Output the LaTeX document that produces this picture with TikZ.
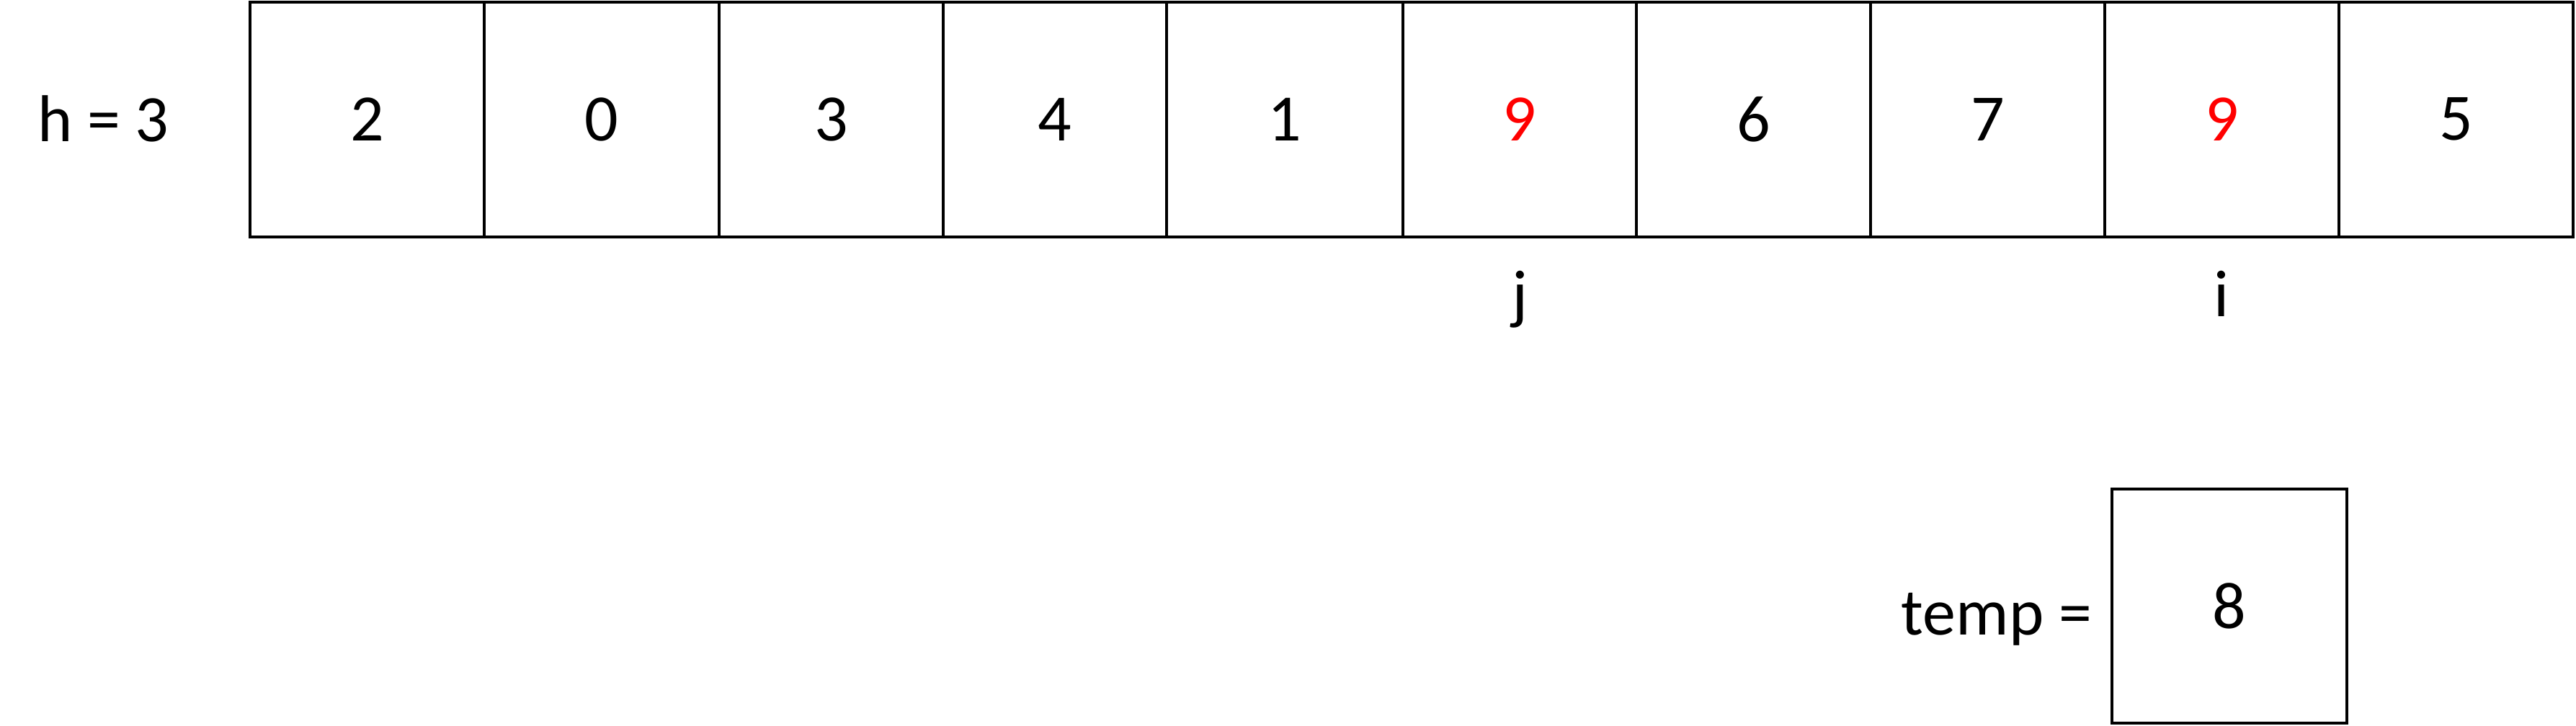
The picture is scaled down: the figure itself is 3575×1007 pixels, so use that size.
\documentclass[tikz,border=0pt]{standalone}
\usepackage{fontspec}
\setmainfont{Carlito}
\begin{document}
\begin{tikzpicture}[x=1pt,y=-1pt,
  every node/.style={font=\fontsize{92}{110}\selectfont, inner sep=0pt},
  cell/.style={draw, line width=4pt, minimum height=326pt},
  lbl/.style={anchor=base}]
\useasboundingbox (0,0) rectangle (3575,1007);
\node[cell, minimum width=325pt] (c0) at (509.5,165.5) {2};
\node[cell, minimum width=326pt] (c1) at (835,165.5) {0};
\node[cell, minimum width=311pt] (c2) at (1153.5,165.5) {3};
\node[cell, minimum width=310pt] (c3) at (1464,165.5) {4};
\node[cell, minimum width=328pt] (c4) at (1783,165.5) {1};
\node[cell, minimum width=324pt, text=red] (c5) at (2109,165.5) {9};
\node[cell, minimum width=325pt] (c6) at (2433.5,165.5) {6};
\node[cell, minimum width=325pt] (c7) at (2758.5,165.5) {7};
\node[cell, minimum width=325pt, text=red] (c8) at (3083.5,165.5) {9};
\node[cell, minimum width=325pt] (c9) at (3408.5,165.5) {5};
\node[anchor=base west] (h) at (52,196) {h = 3};
\node[lbl] (j) at (2109,439) {j};
\node[lbl] (i) at (3083.5,439) {i};
\node[cell, minimum width=326pt, minimum height=325pt] (tbox) at (3094,841.5) {8};
\node[anchor=base east] (temp) at (2903,881) {temp =};
\end{tikzpicture}
\end{document}
